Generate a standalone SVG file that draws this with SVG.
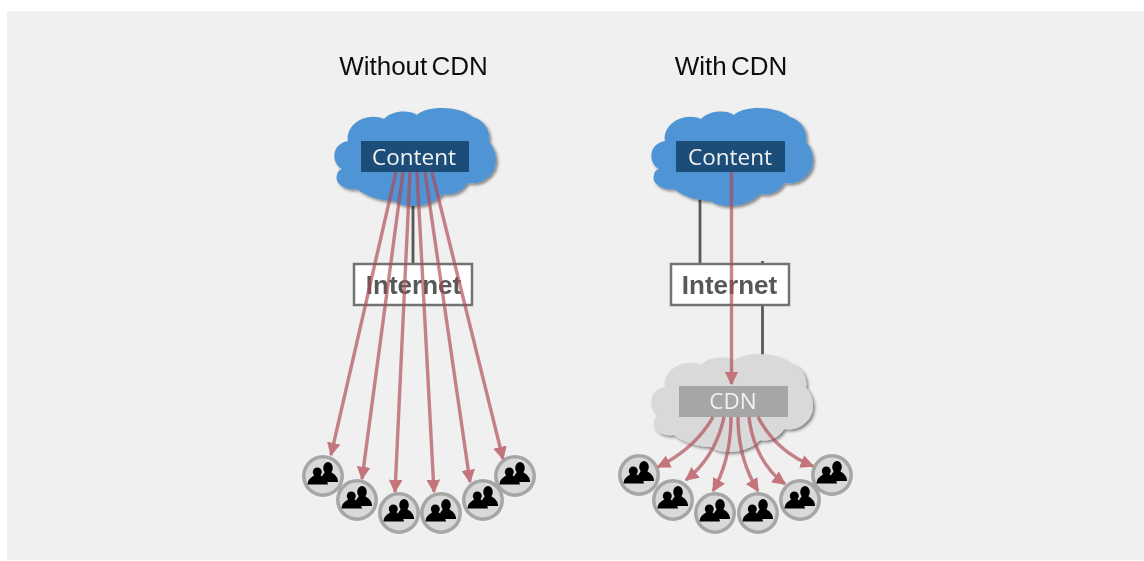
<svg xmlns="http://www.w3.org/2000/svg" width="1144" height="561" viewBox="0 0 1144 561">
<style>
.title{font-family:"Liberation Sans",Arial,sans-serif;font-size:26px;word-spacing:-3px;fill:#111;text-anchor:middle}
.lbl{font-family:"Open Sans","Noto Sans",sans-serif;font-size:22.500px;fill:#f2f2f2;text-anchor:middle}
.net{font-family:"Liberation Sans",Arial,sans-serif;font-size:26px;font-weight:bold;fill:#595959;text-anchor:middle}
.box{fill:#fff;stroke:#737373;stroke-width:2.500}
.gray{fill:none;stroke:#595959;stroke-width:2.800}
.red{fill:none;stroke:#b04a55;stroke-opacity:.68;stroke-width:3.400;marker-end:url(#arrow)}
.ring{fill:#d9d9d9;stroke:#a6a6a6;stroke-width:3.500}
</style>
<defs>
<marker id="arrow" viewBox="0 0 10 10" refX="9" refY="5" markerWidth="4" markerHeight="4" orient="auto"><path d="M0 0L10 5L0 10Z" fill="#c4747c"/></marker>
<filter id="sh" x="-10%" y="-10%" width="125%" height="125%"><feDropShadow dx="2" dy="2" stdDeviation="1.600" flood-color="#000" flood-opacity=".45"/></filter>
<filter id="soft" x="0" y="0" width="1144" height="561" filterUnits="userSpaceOnUse"><feGaussianBlur stdDeviation=".5"/></filter>
<path id="cloud" d="M8 60C-3 54-3 35 14 32C11 16 32 2 50 10C57 2 74 0 83 6C92-3 124-4 139 8C150 11 157 22 155 33C164 42 165 60 154 68C148 74 140 75 133 74C128 83 118 87 109 85C99 96 75 102 59 92C47 92 31 87 23 80C11 82 0 74 3 66C3 63 5 61 8 60Z"/>
<g id="people"><circle class="ring" r="19.200"/><ellipse cx="5" cy="-8" rx="4.800" ry="6"/><path d="M-1 0L2-4H8C13-1 15 2 15 6H2L0 2Z"/><path d="M-15.500 8.500C-15 3-12 2-8.500-1H-3C1 2 4.500 4 5 8.500Z"/><circle cx="-5.700" cy="-4" r="4.500"/></g>
</defs>
<rect width="1144" height="561" fill="#fff"/>
<rect x="7" y="11" width="1137" height="549" fill="#f0f0f0"/>
<g filter="url(#soft)">
<text class="title" x="413.500" y="75">Without CDN</text>
<text class="title" x="731" y="75">With CDN</text>
<g id="connectors-gray">
<path class="gray" d="M413 205V263M700 198V263M762.500 261V358"/>
</g>
<g id="cloud-left"><use href="#cloud" x="334" y="109" fill="#4f94d4" filter="url(#sh)"/></g>
<g id="cloud-right"><use href="#cloud" x="651" y="109" fill="#4f94d4" filter="url(#sh)"/></g>
<g id="cloud-cdn"><use href="#cloud" x="651" y="355" fill="#d9d9d9" filter="url(#sh)"/></g>
<g id="content-left"><rect x="361" y="141" width="108" height="31" fill="#1f4e79"/><text class="lbl" x="414" y="165">Content</text></g>
<g id="content-right"><rect x="676" y="141" width="109" height="31" fill="#1f4e79"/><text class="lbl" x="730" y="165">Content</text></g>
<g id="internet-left"><rect class="box" x="354" y="264" width="118" height="41"/><text class="net" x="413.500" y="294">Internet</text></g>
<g id="internet-right"><rect class="box" x="671" y="264" width="118" height="41"/><text class="net" x="729.500" y="294">Internet</text></g>
<g id="cdn"><rect x="679" y="386" width="109" height="31" fill="#a6a6a6"/><text class="lbl" x="733" y="409">CDN</text></g>
<g id="users-left">
<use href="#people" x="323" y="476"/><use href="#people" x="357" y="500"/><use href="#people" x="399" y="513"/><use href="#people" x="441" y="513"/><use href="#people" x="483" y="500"/><use href="#people" x="515" y="476"/>
</g>
<g id="users-right">
<use href="#people" x="639" y="475"/><use href="#people" x="673" y="500"/><use href="#people" x="715" y="513"/><use href="#people" x="758" y="513"/><use href="#people" x="800" y="500"/><use href="#people" x="832" y="475"/>
</g>
<g id="connectors">
<path class="red" d="M396 172L331 455"/>
<path class="red" d="M403 172L362 479"/>
<path class="red" d="M410 172L395 492"/>
<path class="red" d="M417 172L434 492"/>
<path class="red" d="M425 172L470 482"/>
<path class="red" d="M432 172L503 459"/>
<path class="red" d="M731.500 172V384"/>
<path class="red" d="M713 417C700 440 680 456 658 467"/>
<path class="red" d="M724 417C718 445 705 465 686 480"/>
<path class="red" d="M731 417C731 445 725 470 713 491"/>
<path class="red" d="M738 417C738 445 745 470 758 491"/>
<path class="red" d="M749 417C752 445 765 470 785 484"/>
<path class="red" d="M758 417C770 440 790 457 813 466"/>
</g>
</g>
</svg>
